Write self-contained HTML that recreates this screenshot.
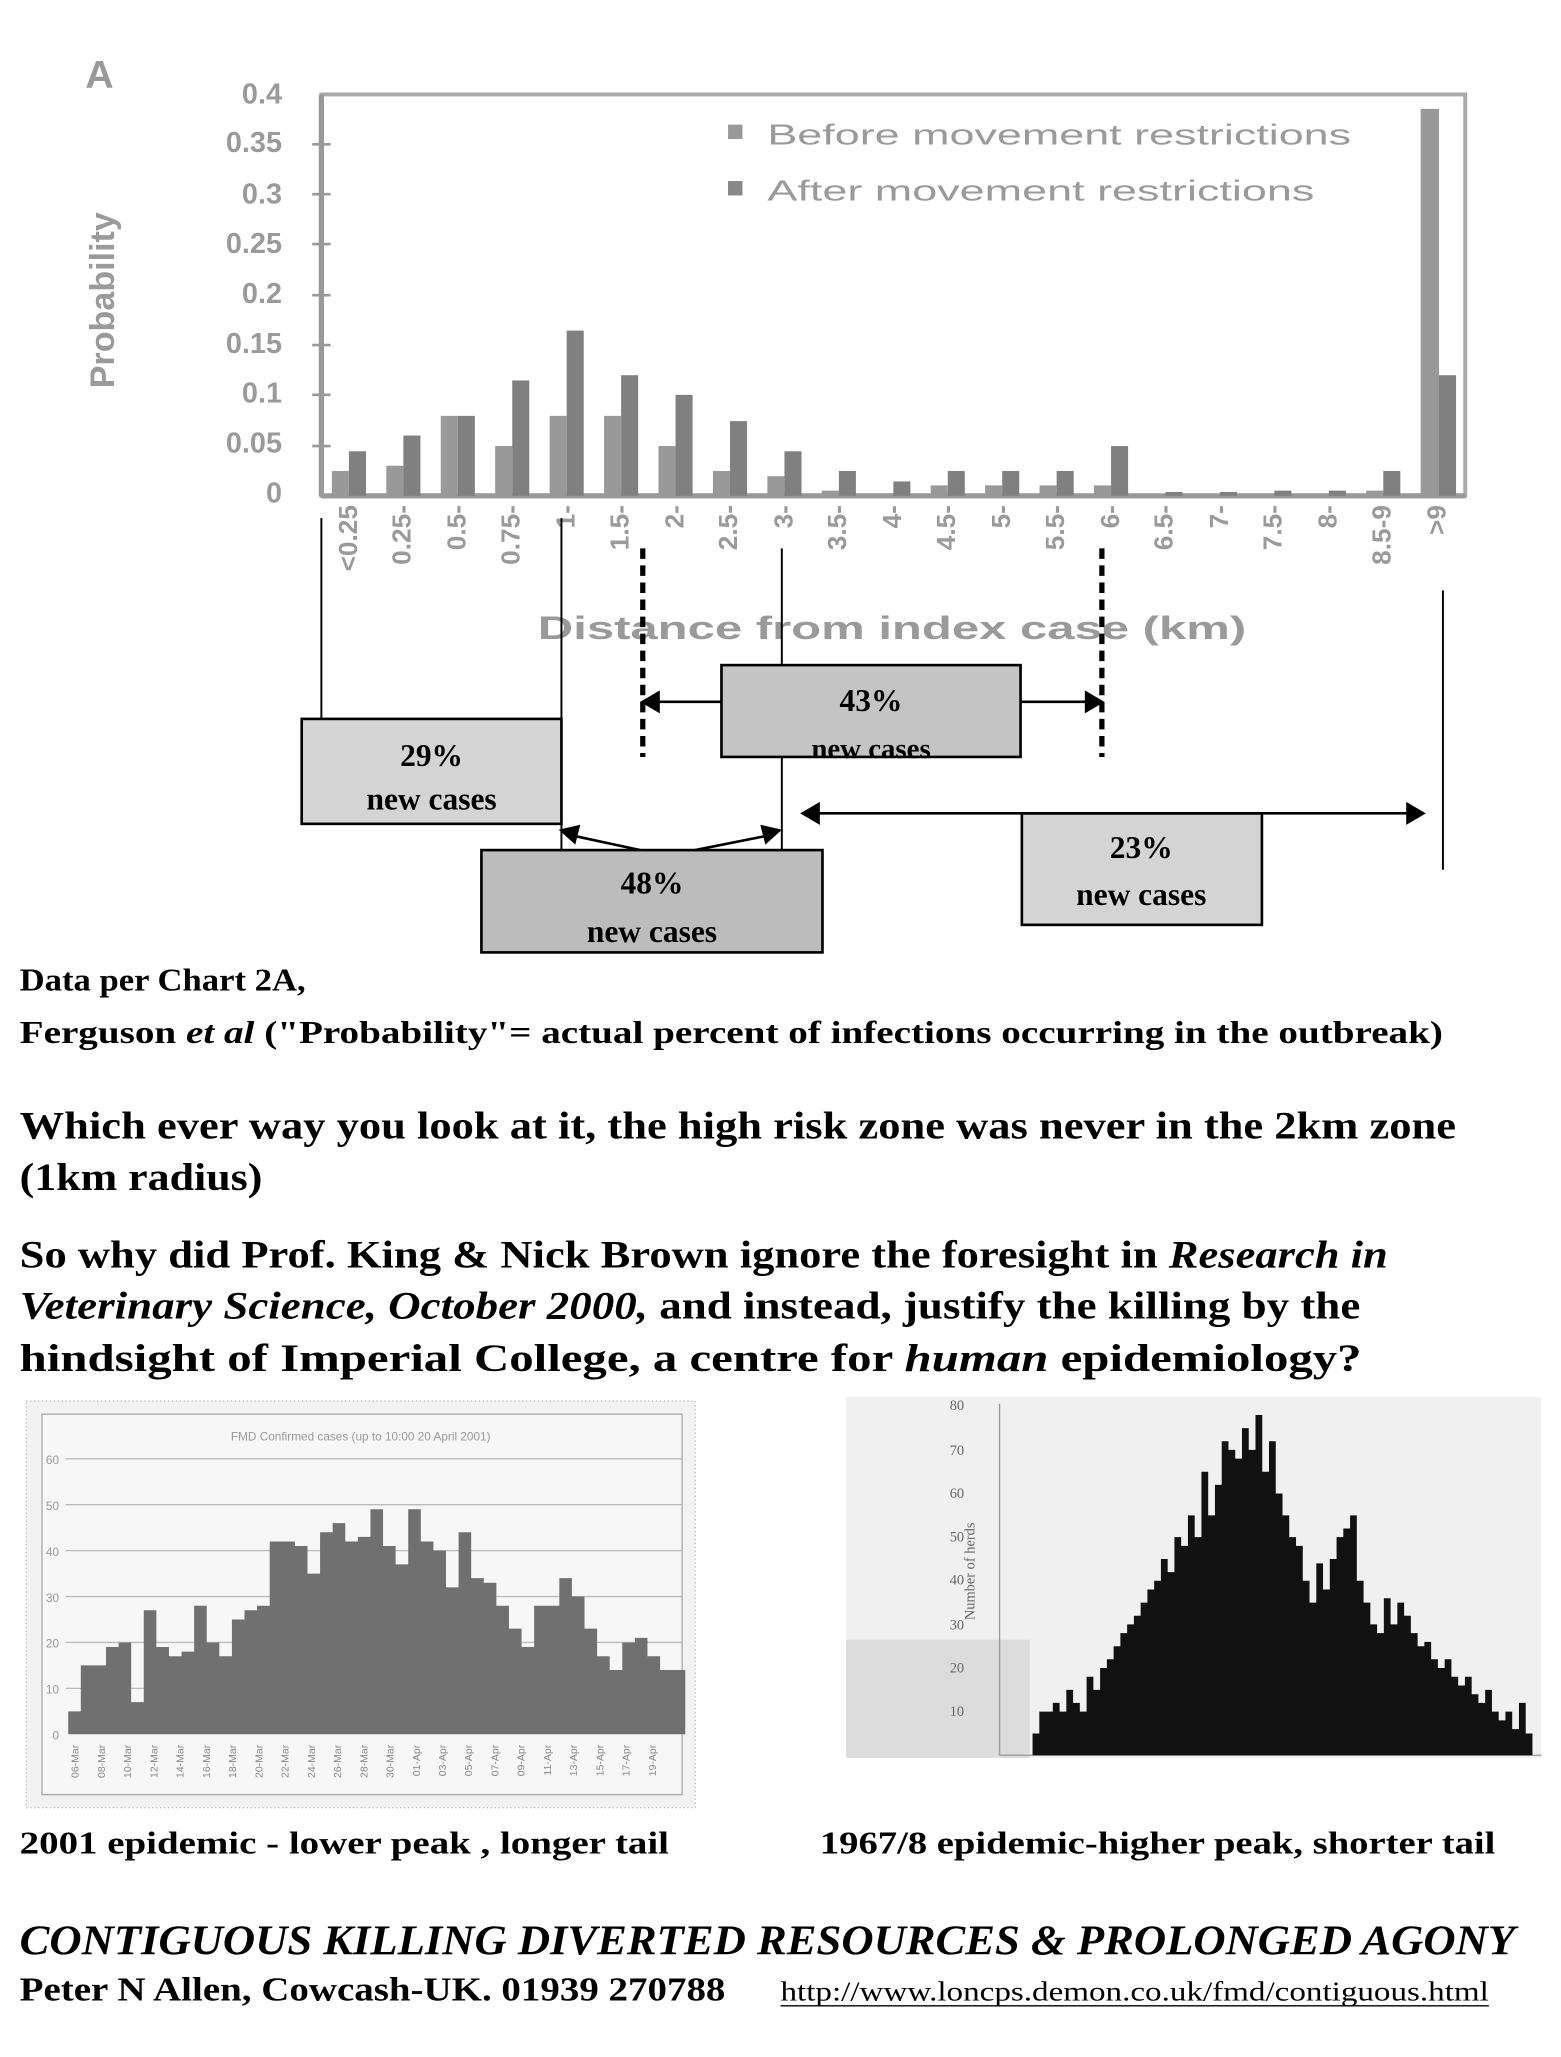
<!DOCTYPE html>
<html><head><meta charset="utf-8"><style>
html,body{margin:0;padding:0;background:#fff;}
svg{display:block;}
.ser{font-family:"Liberation Serif",serif;font-weight:bold;fill:#000;}
.gr{font-family:"Liberation Sans",sans-serif;font-weight:bold;fill:#9a9a9a;}
</style></head><body>
<svg width="1561" height="2057" viewBox="0 0 1190 1568" preserveAspectRatio="none" xmlns="http://www.w3.org/2000/svg">
<rect width="1190" height="1568" fill="#fff"/>
<!-- Top chart -->
<text x="65" y="67" class="gr" font-size="30" fill="#aaa">A</text>
<rect x="245" y="72" width="872" height="306" fill="none" stroke="#aaa" stroke-width="3"/>
<line x1="245" y1="378" x2="1117" y2="378" stroke="#999" stroke-width="4"/>
<line x1="245" y1="72" x2="245" y2="378" stroke="#999" stroke-width="4"/>
<g class="gr" font-size="22" text-anchor="end">
<text x="215" y="79">0.4</text><text x="215" y="116">0.35</text><text x="215" y="155">0.3</text>
<text x="215" y="193">0.25</text><text x="215" y="231">0.2</text><text x="215" y="269">0.15</text>
<text x="215" y="307">0.1</text><text x="215" y="345">0.05</text><text x="215" y="383">0</text>
</g>
<g stroke="#999" stroke-width="2">
<line x1="238" y1="110" x2="252" y2="110"/><line x1="238" y1="148" x2="252" y2="148"/><line x1="238" y1="186" x2="252" y2="186"/><line x1="238" y1="225" x2="252" y2="225"/><line x1="238" y1="263" x2="252" y2="263"/><line x1="238" y1="301" x2="252" y2="301"/><line x1="238" y1="340" x2="252" y2="340"/>
</g>
<text class="gr" font-size="26" transform="translate(87,296) rotate(-90)">Probability</text>
<g class="gr" font-size="22">
<rect x="555" y="95" width="11" height="11" fill="#999"/><text x="585" y="110" style="font-weight:normal" textLength="445" lengthAdjust="spacingAndGlyphs">Before movement restrictions</text>
<rect x="555" y="138" width="11" height="11" fill="#888"/><text x="585" y="153" style="font-weight:normal" textLength="417" lengthAdjust="spacingAndGlyphs">After movement restrictions</text>
</g>
<g fill="#999">
<rect x="253" y="359" width="13" height="19"/><rect x="294.5" y="355" width="13" height="23"/><rect x="336" y="317" width="13" height="61"/><rect x="377.5" y="340" width="13" height="38"/><rect x="419" y="317" width="13" height="61"/><rect x="460.5" y="317" width="13" height="61"/><rect x="502" y="340" width="13" height="38"/><rect x="543.5" y="359" width="13" height="19"/><rect x="585" y="363" width="13" height="15"/><rect x="626.5" y="374" width="13" height="4"/><rect x="709.5" y="370" width="13" height="8"/><rect x="751" y="370" width="13" height="8"/><rect x="792.5" y="370" width="13" height="8"/><rect x="834" y="370" width="13" height="8"/><rect x="1041.5" y="374" width="13" height="4"/><rect x="1083" y="83" width="14" height="295"/>
</g>
<g fill="#808080">
<rect x="266" y="344" width="13" height="34"/><rect x="307.5" y="332" width="13" height="46"/><rect x="349" y="317" width="13" height="61"/><rect x="390.5" y="290" width="13" height="88"/><rect x="432" y="252" width="13" height="126"/><rect x="473.5" y="286" width="13" height="92"/><rect x="515" y="301" width="13" height="77"/><rect x="556.5" y="321" width="13" height="57"/><rect x="598" y="344" width="13" height="34"/><rect x="639.5" y="359" width="13" height="19"/><rect x="681" y="367" width="13" height="11"/><rect x="722.5" y="359" width="13" height="19"/><rect x="764" y="359" width="13" height="19"/><rect x="805.5" y="359" width="13" height="19"/><rect x="847" y="340" width="13" height="38"/><rect x="888.5" y="375" width="13" height="3"/><rect x="930" y="375" width="13" height="3"/><rect x="971.5" y="374" width="13" height="4"/><rect x="1013" y="374" width="13" height="4"/><rect x="1054.5" y="359" width="13" height="19"/><rect x="1097" y="286" width="13" height="92"/>
</g>
<g class="gr" font-size="20" text-anchor="end">
<text transform="translate(272,385) rotate(-90)">&lt;0.25</text><text transform="translate(313,385) rotate(-90)">0.25-</text><text transform="translate(355,385) rotate(-90)">0.5-</text><text transform="translate(396,385) rotate(-90)">0.75-</text><text transform="translate(438,385) rotate(-90)">1-</text><text transform="translate(479,385) rotate(-90)">1.5-</text><text transform="translate(521,385) rotate(-90)">2-</text><text transform="translate(562,385) rotate(-90)">2.5-</text><text transform="translate(604,385) rotate(-90)">3-</text><text transform="translate(645,385) rotate(-90)">3.5-</text><text transform="translate(687,385) rotate(-90)">4-</text><text transform="translate(728,385) rotate(-90)">4.5-</text><text transform="translate(770,385) rotate(-90)">5-</text><text transform="translate(811,385) rotate(-90)">5.5-</text><text transform="translate(853,385) rotate(-90)">6-</text><text transform="translate(894,385) rotate(-90)">6.5-</text><text transform="translate(936,385) rotate(-90)">7-</text><text transform="translate(977,385) rotate(-90)">7.5-</text><text transform="translate(1019,385) rotate(-90)">8-</text><text transform="translate(1060,385) rotate(-90)">8.5-9</text><text transform="translate(1102,385) rotate(-90)">&gt;9</text>
</g>
<text x="410" y="487" class="gr" font-size="25" textLength="540" lengthAdjust="spacingAndGlyphs" fill="#aaa">Distance from index case (km)</text>
<!-- lines -->
<g stroke="#000" stroke-width="1.5">
<line x1="245" y1="395" x2="245" y2="548"/><line x1="428" y1="395" x2="428" y2="648"/><line x1="596" y1="418" x2="596" y2="648"/><line x1="1100" y1="450" x2="1100" y2="663"/>
</g>
<g stroke="#000" stroke-width="4" stroke-dasharray="8,5">
<line x1="490" y1="418" x2="490" y2="577"/><line x1="840" y1="418" x2="840" y2="577"/>
</g>
<rect x="550" y="507" width="228" height="70" fill="#c4c4c4" stroke="#000" stroke-width="2"/>
<rect x="230" y="548" width="198" height="80" fill="#d4d4d4" stroke="#000" stroke-width="2"/>
<rect x="367" y="648" width="260" height="78" fill="#bcbcbc" stroke="#000" stroke-width="2"/>
<rect x="779" y="620" width="183" height="85" fill="#d4d4d4" stroke="#000" stroke-width="2"/>
<g stroke="#000" stroke-width="2" fill="#000">
<line x1="498" y1="535" x2="550" y2="535"/><polygon points="490,535 502,528 502,542"/>
<line x1="778" y1="535" x2="830" y2="535"/><polygon points="840,535 828,528 828,542"/>
<line x1="620" y1="620" x2="1075" y2="620"/><polygon points="612,620 624,613 624,627"/><polygon points="1085,620 1073,613 1073,627"/>
<line x1="432" y1="636" x2="488" y2="648"/><polygon points="428,633 441,630 438,642"/>
<line x1="530" y1="648" x2="590" y2="636"/><polygon points="594,633 581,630 584,642"/>
</g>
<g class="ser" font-size="24" text-anchor="middle">
<text x="664" y="542">43%</text><text x="664" y="578" font-size="22">new cases</text>
<text x="329" y="584">29%</text><text x="329" y="617">new cases</text>
<text x="497" y="681">48%</text><text x="497" y="718">new cases</text>
<text x="870" y="654">23%</text><text x="870" y="690">new cases</text>
</g>
<!-- Text -->
<g class="ser">
<text x="15" y="755" font-size="24" textLength="218" lengthAdjust="spacingAndGlyphs">Data per Chart 2A,</text>
<text x="15" y="795" font-size="24" textLength="1085" lengthAdjust="spacingAndGlyphs">Ferguson <tspan font-style="italic">et al</tspan>  ("Probability"= actual percent of infections occurring in the outbreak)</text>
<text x="15" y="868" font-size="30" textLength="1095" lengthAdjust="spacingAndGlyphs">Which ever way you look at it, the high risk zone was never in the 2km zone</text>
<text x="15" y="907" font-size="30" textLength="185" lengthAdjust="spacingAndGlyphs">(1km radius)</text>
<text x="15" y="966" font-size="30" textLength="1043" lengthAdjust="spacingAndGlyphs">So why did Prof. King &amp; Nick Brown ignore the foresight in <tspan font-style="italic">Research in</tspan></text>
<text x="15" y="1005" font-size="30" textLength="1022" lengthAdjust="spacingAndGlyphs"><tspan font-style="italic">Veterinary Science, October 2000,</tspan>  and instead, justify the killing by the</text>
<text x="15" y="1045" font-size="30" textLength="1023" lengthAdjust="spacingAndGlyphs">hindsight of Imperial College, a centre for <tspan font-style="italic">human</tspan> epidemiology?</text>
</g>
<!-- bottom left chart -->
<rect x="20" y="1068" width="510" height="310" fill="#f2f2f2" stroke="#bbb" stroke-dasharray="1,2"/>
<rect x="32" y="1078" width="488" height="290" fill="#f7f7f7" stroke="#aaa"/>
<text x="275" y="1098" text-anchor="middle" font-family="Liberation Sans,sans-serif" font-size="9" fill="#999">FMD Confirmed cases (up to 10:00 20 April 2001)</text>
<g stroke="#bbb" stroke-width="1"><line x1="50" y1="1112" x2="520" y2="1112"/><line x1="50" y1="1147" x2="520" y2="1147"/><line x1="50" y1="1182" x2="520" y2="1182"/><line x1="50" y1="1217" x2="520" y2="1217"/><line x1="50" y1="1252" x2="520" y2="1252"/><line x1="50" y1="1287" x2="520" y2="1287"/></g>
<g font-family="Liberation Sans,sans-serif" font-size="9" fill="#999" text-anchor="end"><text x="45" y="1116">60</text><text x="45" y="1151">50</text><text x="45" y="1186">40</text><text x="45" y="1221">30</text><text x="45" y="1256">20</text><text x="45" y="1291">10</text><text x="45" y="1326">0</text></g>
<path transform="translate(52,1322) scale(9.6,-3.5)" fill="#707070" d="M0 0 V5 h1 V15 h1 V15 h1 V19 h1 V20 h1 V7 h1 V27 h1 V19 h1 V17 h1 V18 h1 V28 h1 V20 h1 V17 h1 V25 h1 V27 h1 V28 h1 V42 h1 V42 h1 V41 h1 V35 h1 V44 h1 V46 h1 V42 h1 V43 h1 V49 h1 V41 h1 V37 h1 V49 h1 V42 h1 V40 h1 V32 h1 V44 h1 V34 h1 V33 h1 V28 h1 V23 h1 V19 h1 V28 h1 V28 h1 V34 h1 V30 h1 V23 h1 V17 h1 V14 h1 V20 h1 V21 h1 V17 h1 V14 h1 V14 h1 V0 Z"/>
<g font-family="Liberation Sans,sans-serif" font-size="8" fill="#888" text-anchor="end">
<text transform="translate(60,1330) rotate(-90)">06-Mar</text><text transform="translate(80,1330) rotate(-90)">08-Mar</text><text transform="translate(100,1330) rotate(-90)">10-Mar</text><text transform="translate(120,1330) rotate(-90)">12-Mar</text><text transform="translate(140,1330) rotate(-90)">14-Mar</text><text transform="translate(160,1330) rotate(-90)">16-Mar</text><text transform="translate(180,1330) rotate(-90)">18-Mar</text><text transform="translate(200,1330) rotate(-90)">20-Mar</text><text transform="translate(220,1330) rotate(-90)">22-Mar</text><text transform="translate(240,1330) rotate(-90)">24-Mar</text><text transform="translate(260,1330) rotate(-90)">26-Mar</text><text transform="translate(280,1330) rotate(-90)">28-Mar</text><text transform="translate(300,1330) rotate(-90)">30-Mar</text><text transform="translate(320,1330) rotate(-90)">01-Apr</text><text transform="translate(340,1330) rotate(-90)">03-Apr</text><text transform="translate(360,1330) rotate(-90)">05-Apr</text><text transform="translate(380,1330) rotate(-90)">07-Apr</text><text transform="translate(400,1330) rotate(-90)">09-Apr</text><text transform="translate(420,1330) rotate(-90)">11-Apr</text><text transform="translate(440,1330) rotate(-90)">13-Apr</text><text transform="translate(460,1330) rotate(-90)">15-Apr</text><text transform="translate(480,1330) rotate(-90)">17-Apr</text><text transform="translate(500,1330) rotate(-90)">19-Apr</text>
</g>
<!-- bottom right chart -->
<rect x="645" y="1065" width="530" height="275" fill="#f0f0f0"/>
<rect x="645" y="1250" width="140" height="90" fill="#dcdcdc"/>
<line x1="762" y1="1070" x2="762" y2="1338" stroke="#999"/>
<line x1="762" y1="1338" x2="1175" y2="1338" stroke="#999"/>
<g font-family="Liberation Serif,serif" font-size="11" fill="#666" text-anchor="end"><text x="735" y="1075">80</text><text x="735" y="1109">70</text><text x="735" y="1142">60</text><text x="735" y="1175">50</text><text x="735" y="1208">40</text><text x="735" y="1242">30</text><text x="735" y="1275">20</text><text x="735" y="1308">10</text></g>
<text transform="translate(743,1235) rotate(-90)" font-family="Liberation Serif,serif" font-size="11" fill="#666">Number of herds</text>
<path transform="translate(782,1338) scale(5.15,-3.325)" fill="#111" d="M0 0 V0 h1 V5 h1 V10 h1 V10 h1 V12 h1 V10 h1 V15 h1 V12 h1 V10 h1 V18 h1 V15 h1 V20 h1 V22 h1 V25 h1 V28 h1 V30 h1 V32 h1 V35 h1 V38 h1 V40 h1 V45 h1 V42 h1 V50 h1 V48 h1 V55 h1 V50 h1 V65 h1 V55 h1 V62 h1 V72 h1 V70 h1 V68 h1 V75 h1 V70 h1 V78 h1 V65 h1 V72 h1 V60 h1 V55 h1 V50 h1 V48 h1 V40 h1 V35 h1 V44 h1 V38 h1 V45 h1 V50 h1 V52 h1 V55 h1 V40 h1 V35 h1 V30 h1 V28 h1 V36 h1 V30 h1 V35 h1 V32 h1 V28 h1 V25 h1 V26 h1 V22 h1 V20 h1 V22 h1 V18 h1 V16 h1 V18 h1 V14 h1 V12 h1 V15 h1 V10 h1 V8 h1 V10 h1 V6 h1 V12 h1 V5 h1 V0 Z"/>
<!-- captions -->
<g class="ser">
<text x="15" y="1413" font-size="24" textLength="495" lengthAdjust="spacingAndGlyphs">2001 epidemic - lower peak , longer tail</text>
<text x="625" y="1413" font-size="24" textLength="515" lengthAdjust="spacingAndGlyphs">1967/8 epidemic-higher peak, shorter tail</text>
<text x="15" y="1490" font-size="32" font-style="italic" textLength="1140" lengthAdjust="spacingAndGlyphs">CONTIGUOUS KILLING DIVERTED RESOURCES &amp; PROLONGED AGONY</text>
<text x="15" y="1525" font-size="26" textLength="538" lengthAdjust="spacingAndGlyphs">Peter N Allen, Cowcash-UK. 01939 270788</text>
</g>
<text x="595" y="1525" font-family="Liberation Serif,serif" font-size="21" textLength="540" lengthAdjust="spacingAndGlyphs">http://www.loncps.demon.co.uk/fmd/contiguous.html</text>
<line x1="595" y1="1529" x2="1135" y2="1529" stroke="#000" stroke-width="1"/>
</svg>
</body></html>
